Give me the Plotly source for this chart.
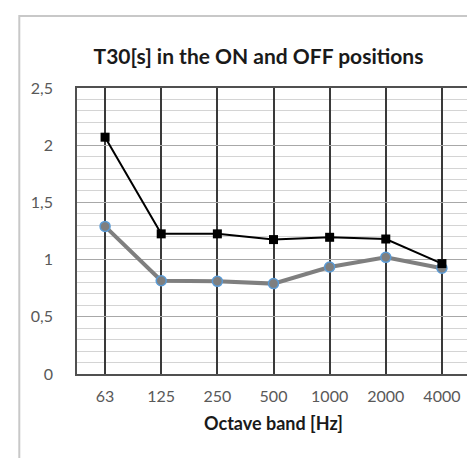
import plotly.graph_objects as go

bands = ["63", "125", "250", "500", "1000", "2000", "4000"]
t30_black = [2.07, 1.225, 1.225, 1.175, 1.195, 1.18, 0.965]
t30_gray = [1.29, 0.815, 0.81, 0.79, 0.935, 1.02, 0.925]
y_ticks = [0, 0.5, 1, 1.5, 2, 2.5]
y_tick_labels = ["0", "0,5", "1", "1,5", "2", "2,5"]

W, H = 475, 458
L, R, T, B = 69, 464, 80, 366
pw, ph = R - L, B - T

def px(x):
    return (x - L) / pw

def py(y):
    return (B - y) / ph

FONT = "Lato, Open Sans, sans-serif"

fig = go.Figure()
fig.add_trace(go.Scatter(
    x=bands, y=t30_gray, mode="lines+markers",
    line=dict(color="#7f7f7f", width=4),
    marker=dict(symbol="circle", size=10, color="#7f7f7f",
                line=dict(color="#5b9bd5", width=1.5)),
    showlegend=False))
fig.add_trace(go.Scatter(
    x=bands, y=t30_black, mode="lines+markers",
    line=dict(color="#000000", width=2),
    marker=dict(symbol="square", size=9, color="#000000"),
    showlegend=False))

fig.update_layout(
    width=W, height=H,
    margin=dict(l=L, r=W - R, t=T, b=H - B, pad=0),
    paper_bgcolor="white", plot_bgcolor="white",
    font=dict(family=FONT, color="#595959", size=16),
    title=dict(text="<b>T30[s] in the ON and OFF positions</b>",
               x=250.5 / W, xref="container", xanchor="center",
               y=1 - 49 / H, yref="container", yanchor="middle",
               font=dict(size=21, color="#1a1a1a", family=FONT)),
    shapes=[
        dict(type="rect", xref="paper", yref="paper",
             x0=px(11), x1=px(W + 20), y0=py(H + 20), y1=py(8),
             line=dict(color="#c8c8c8", width=2), fillcolor="rgba(0,0,0,0)",
             layer="below"),
    ],
)

fig.update_xaxes(
    type="category", range=[-0.5, 6.5],
    showgrid=True, gridcolor="#3a3a3a", gridwidth=1.5,
    showline=True, linecolor="#505050", linewidth=1.5, mirror=True,
    ticks="", ticklabelstandoff=7,
    tickfont=dict(size=16, color="#595959"),
    title=dict(text="<b>Octave band [Hz]</b>", standoff=13,
               font=dict(size=18, color="#1a1a1a")),
    zeroline=False,
)
fig.update_yaxes(
    range=[0, 2.5], tickvals=y_ticks, ticktext=y_tick_labels,
    showgrid=True, gridcolor="#a8a8a8", gridwidth=1.2,
    minor=dict(dtick=0.1, showgrid=True, gridcolor="#d4d4d4", gridwidth=1),
    showline=True, linecolor="#505050", linewidth=1.5, mirror=True,
    ticks="", ticklabelstandoff=19,
    tickfont=dict(size=16, color="#595959"),
    zeroline=False,
)

fig.write_html("out.html")
